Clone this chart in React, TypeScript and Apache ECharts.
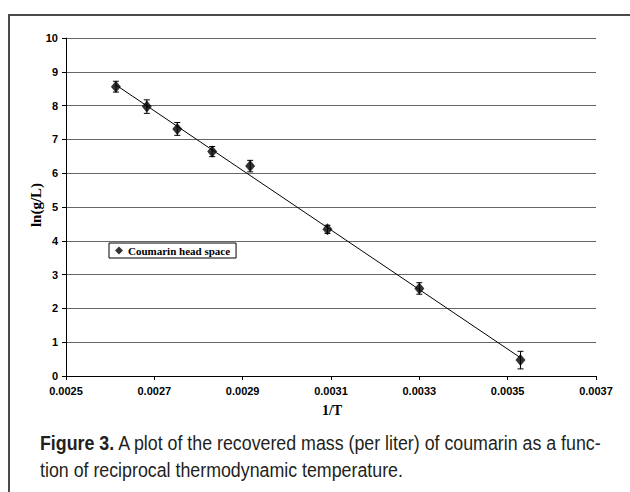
import React, { useEffect, useRef } from "react";
import * as echarts from "echarts";

// Data
const invT: number[] = [0.002613, 0.002683, 0.002752, 0.002831, 0.002917, 0.003092, 0.0033, 0.003529];
const lnConc: number[] = [8.56, 7.97, 7.31, 6.64, 6.21, 4.34, 2.59, 0.47];
const yErr: number[] = [0.16, 0.2, 0.19, 0.15, 0.17, 0.12, 0.17, 0.26];
const trendX: number[] = [0.002613, 0.003529];
const trendY: number[] = [8.61, 0.54];
const xTicks: number[] = [0.0025, 0.0027, 0.0029, 0.0031, 0.0033, 0.0035, 0.0037];
const seriesName = "Coumarin head space";
const xTitle = "1/T";
const yTitle = "ln(g/L)";
const captionBold = "Figure 3.";
const captionRest1 = " A plot of the recovered mass (per liter) of coumarin as a func-";
const captionLine2 = "tion of reciprocal thermodynamic temperature.";

export default function App() {
  const ref = useRef<HTMLDivElement>(null);
  useEffect(() => {
    if (!ref.current) return;
    const chart = echarts.init(ref.current, null, { renderer: "svg" });
    const points = invT.map((x, i) => [x, lnConc[i]]);
    const bars = invT.map((x, i) => [x, lnConc[i] - yErr[i], lnConc[i] + yErr[i]]);
    const trend = trendX.map((x, i) => [x, trendY[i]]);
    const tickFont = { fontFamily: "Liberation Sans, Arial, sans-serif", fontWeight: "bold" as const, fontSize: 11, color: "#000" };
    chart.setOption({
      animation: false,
      backgroundColor: "#fff",
      grid: { left: 66, top: 38, right: 34, bottom: 116 },
      xAxis: {
        type: "value",
        min: 0.0025,
        max: 0.0037,
        axisLine: { show: true, onZero: false, lineStyle: { color: "#000", width: 1 } },
        axisTick: { show: true, length: 4, customValues: xTicks, lineStyle: { color: "#000" } },
        axisLabel: { ...tickFont, margin: 9, customValues: xTicks, formatter: (v: number) => v.toFixed(4) },
        splitLine: { show: false },
      },
      yAxis: {
        type: "value",
        min: 0,
        max: 10,
        interval: 1,
        axisLine: { show: true, lineStyle: { color: "#000", width: 1 } },
        axisTick: { show: true, length: 4, lineStyle: { color: "#000" } },
        axisLabel: { ...tickFont, margin: 8 },
        splitLine: { show: true, lineStyle: { color: "#666", width: 1 } },
      },
      legend: {
        data: [seriesName],
        left: 109,
        top: 243,
        orient: "horizontal",
        itemWidth: 8,
        itemHeight: 8,
        padding: [2, 6, 2, 6],
        borderColor: "#000",
        borderWidth: 1,
        backgroundColor: "#fff",
        textStyle: { fontFamily: "Liberation Serif, Times New Roman, serif", fontWeight: "bold", fontSize: 11, color: "#000" },
        itemStyle: { color: "#000" },
      },
      series: [
        {
          type: "line",
          name: "trend",
          data: trend,
          symbol: "none",
          lineStyle: { color: "#000", width: 1 },
          z: 2,
        },
        {
          type: "custom",
          name: "errors",
          data: bars,
          encode: { x: 0, y: [1, 2] },
          renderItem: (params: any, api: any) => {
            const x = api.value(0);
            const lo = api.coord([x, api.value(1)]);
            const hi = api.coord([x, api.value(2)]);
            const c = 3;
            const style = { stroke: "#000", lineWidth: 1 };
            return {
              type: "group",
              children: [
                { type: "line", shape: { x1: lo[0], y1: lo[1], x2: hi[0], y2: hi[1] }, style },
                { type: "line", shape: { x1: lo[0] - c, y1: lo[1], x2: lo[0] + c, y2: lo[1] }, style },
                { type: "line", shape: { x1: hi[0] - c, y1: hi[1], x2: hi[0] + c, y2: hi[1] }, style },
              ],
            };
          },
          z: 3,
        },
        {
          type: "scatter",
          name: seriesName,
          data: points,
          symbol: "diamond",
          symbolSize: [10, 12],
          itemStyle: { color: "#000" },
          z: 4,
        },
      ],
      graphic: [
        {
          type: "rect",
          shape: { x: 9, y: 15, width: 700, height: 600 },
          style: { fill: "none", stroke: "#4a4a4a", lineWidth: 2 },
          silent: true,
        },
        {
          type: "text",
          x: 332,
          y: 410,
          style: { text: xTitle, font: "bold 14px 'Liberation Serif', serif", fill: "#000", align: "center", verticalAlign: "middle" },
        },
        {
          type: "text",
          x: 36,
          y: 205,
          rotation: Math.PI / 2,
          style: { text: yTitle, font: "bold 15px 'Liberation Serif', serif", fill: "#000", align: "center", verticalAlign: "middle" },
        },
        {
          type: "text",
          x: 40,
          y: 430,
          scaleX: 0.89,
          style: {
            text: "{b|" + captionBold + "}{r|" + captionRest1 + "}\n{r|" + captionLine2 + "}",
            fill: "#231f20",
            rich: {
              b: { font: "bold 20px 'Liberation Sans', sans-serif", fill: "#231f20", lineHeight: 27 },
              r: { font: "20px 'Liberation Sans', sans-serif", fill: "#231f20", lineHeight: 27 },
            },
          },
        },
      ],
    });
    return () => chart.dispose();
  }, []);
  return <div ref={ref} style={{ position: "fixed", left: 0, top: 0, width: 630, height: 492 }} />;
}
